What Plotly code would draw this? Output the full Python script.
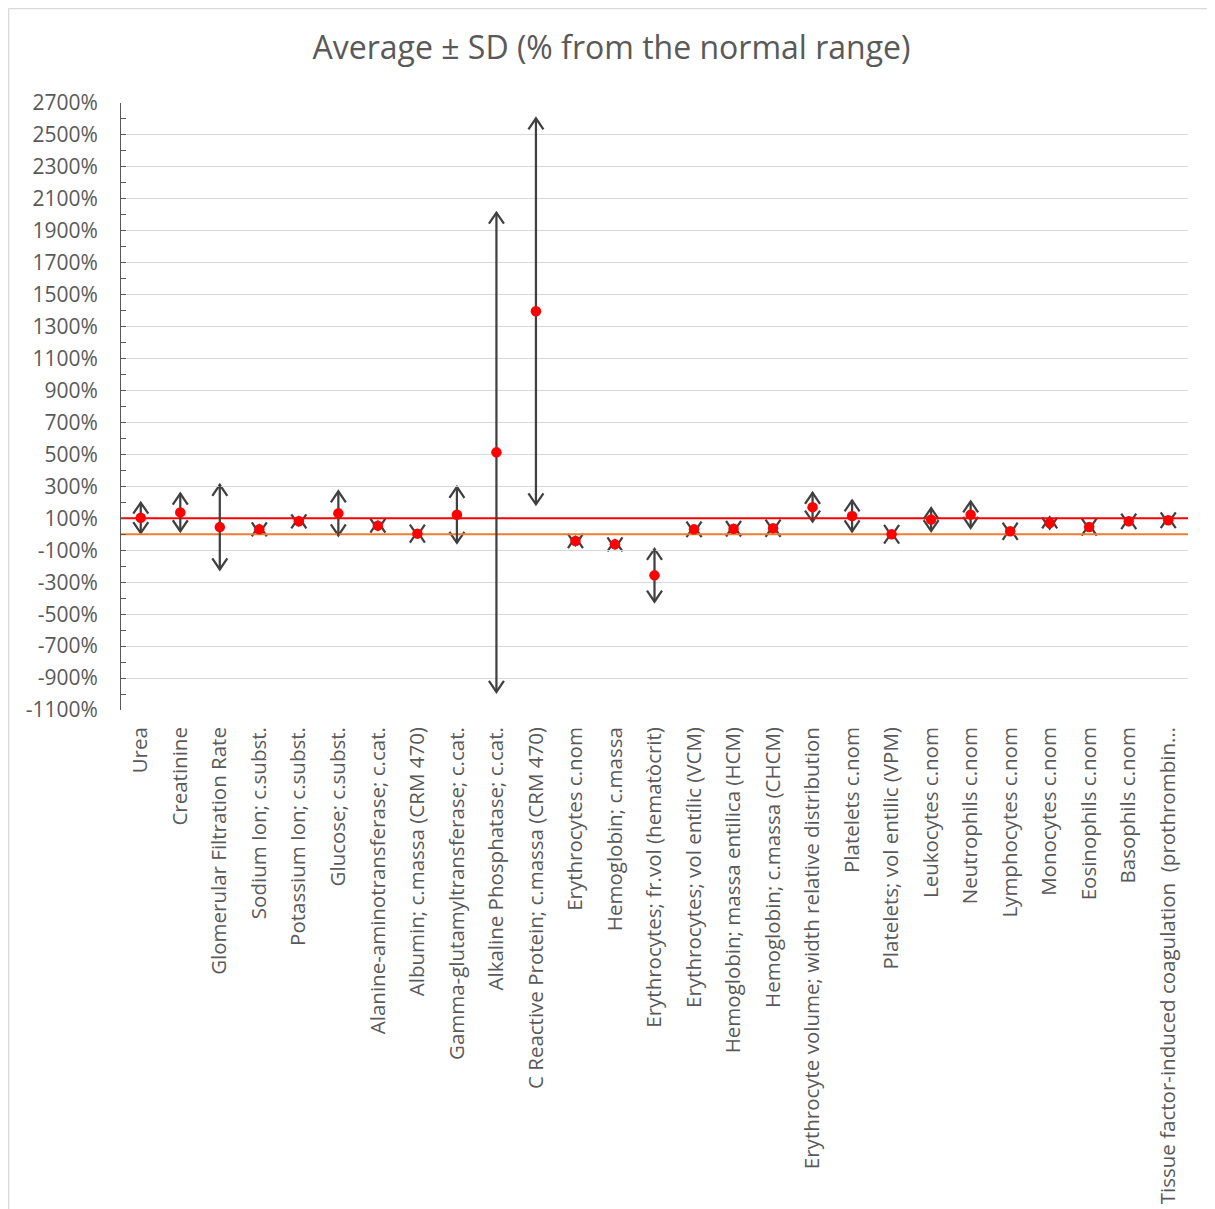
import plotly.graph_objects as go

categories = [
    "Urea",
    "Creatinine",
    "Glomerular Filtration Rate",
    "Sodium Ion; c.subst.",
    "Potassium Ion; c.subst.",
    "Glucose; c.subst.",
    "Alanine-aminotransferase; c.cat.",
    "Albumin; c.massa (CRM 470)",
    "Gamma-glutamyltransferase; c.cat.",
    "Alkaline Phosphatase; c.cat.",
    "C Reactive Protein; c.massa (CRM 470)",
    "Erythrocytes c.nom",
    "Hemoglobin; c.massa",
    "Erythrocytes; fr.vol (hematòcrit)",
    "Erythrocytes; vol entílic (VCM)",
    "Hemoglobin; massa entilica (HCM)",
    "Hemoglobin; c.massa (CHCM)",
    "Erythrocyte volume; width relative distribution",
    "Platelets c.nom",
    "Platelets; vol entilic (VPM)",
    "Leukocytes c.nom",
    "Neutrophils c.nom",
    "Lymphocytes c.nom",
    "Monocytes c.nom",
    "Eosinophils c.nom",
    "Basophils c.nom",
    "Tissue factor-induced coagulation  (prothrombin…",
]

# average (% from the normal range)
means = [103, 137, 45, 31, 81, 131, 54, 4, 122, 513, 1396, -42, -63, -257,
         31, 35, 38, 170, 115, 0, 92, 123, 19, 71, 46, 81, 88]
# standard deviation (%)
sds = [95, 118, 265, 25, 25, 138, 25, 12, 175, 1500, 1208, 25, 25, 165,
       20, 20, 15, 90, 97, 10, 72, 83, 15, 35, 15, 20, 20]

normal_upper = 100
normal_lower = 0

y_ticks = [-1100, -900, -700, -500, -300, -100, 100, 300, 500, 700, 900, 1100,
           1300, 1500, 1700, 1900, 2100, 2300, 2500, 2700]
y_tick_labels = [f"{v}%" for v in y_ticks]

FONT = "Open Sans"
TXT = "#595959"
ARROW = "#404040"

x_idx = list(range(len(categories)))
x_span = [-0.5, len(categories) - 0.5]

fig = go.Figure()

# normal range lines
fig.add_trace(go.Scatter(x=x_span, y=[normal_upper] * 2, mode="lines",
                         line=dict(color="#FF0000", width=2),
                         showlegend=False, hoverinfo="skip"))
fig.add_trace(go.Scatter(x=x_span, y=[normal_lower] * 2, mode="lines",
                         line=dict(color="#ED7D31", width=2),
                         showlegend=False, hoverinfo="skip"))

fig.add_trace(go.Scatter(
    x=x_idx, y=means, mode="markers",
    marker=dict(color="#FF0000", size=10.5, line=dict(width=0)),
    error_y=dict(type="data", array=sds, symmetric=True, color=ARROW,
                 thickness=2.25, width=0),
    showlegend=False, hoverinfo="skip",
))

# arrow heads at the ends of the SD bars
for i, (m, s) in enumerate(zip(means, sds)):
    fig.add_shape(type="path", xref="x", yref="y", xsizemode="pixel", ysizemode="pixel",
                  xanchor=i, yanchor=m + s, path="M-7.5,-11 L0,0 L7.5,-11",
                  line=dict(color=ARROW, width=2.25), layer="below")
    fig.add_shape(type="path", xref="x", yref="y", xsizemode="pixel", ysizemode="pixel",
                  xanchor=i, yanchor=m - s, path="M-7.5,11 L0,0 L7.5,11",
                  line=dict(color=ARROW, width=2.25), layer="below")

# chart-area border (left and top)
fig.add_shape(type="line", xref="paper", yref="paper", x0=-0.1054, x1=-0.1054,
              y0=-0.9, y1=1.1557, line=dict(color="#D9D9D9", width=1.5))
fig.add_shape(type="line", xref="paper", yref="paper", x0=-0.1054, x1=1.03,
              y0=1.1557, y1=1.1557, line=dict(color="#D9D9D9", width=1.5))

fig.update_layout(
    width=1207, height=1201,
    margin=dict(l=113, r=27, t=95, b=499),
    paper_bgcolor="white", plot_bgcolor="white",
    font=dict(family=FONT, color=TXT),
    title=dict(text="Average ± SD (% from the normal range)", x=0.5, xanchor="center",
               y=1 - 40 / 1201, yanchor="middle", font=dict(size=32, color=TXT, family=FONT)),
    showlegend=False,
)
fig.update_xaxes(
    range=x_span, automargin=False,
    tickmode="array", tickvals=x_idx, ticktext=categories,
    tickangle=-90, tickfont=dict(size=20.5, color=TXT, family=FONT),
    showgrid=False, zeroline=False, showline=False, ticks="",
    ticklabelstandoff=12,
)
fig.update_yaxes(
    range=[-1100, 2700], automargin=False,
    tickmode="array", tickvals=y_ticks, ticktext=y_tick_labels,
    tickfont=dict(size=21, color=TXT, family=FONT),
    showgrid=True, gridcolor="#D9D9D9", gridwidth=1,
    zeroline=False, showline=True, linecolor="#595959", linewidth=1,
    ticks="inside", ticklen=5, tickcolor="#595959",
    minor=dict(tickmode="linear", tick0=-1100, dtick=100, ticks="inside",
               ticklen=5, tickcolor="#595959", showgrid=False),
    ticklabelstandoff=18,
)

fig.write_html("out.html")
